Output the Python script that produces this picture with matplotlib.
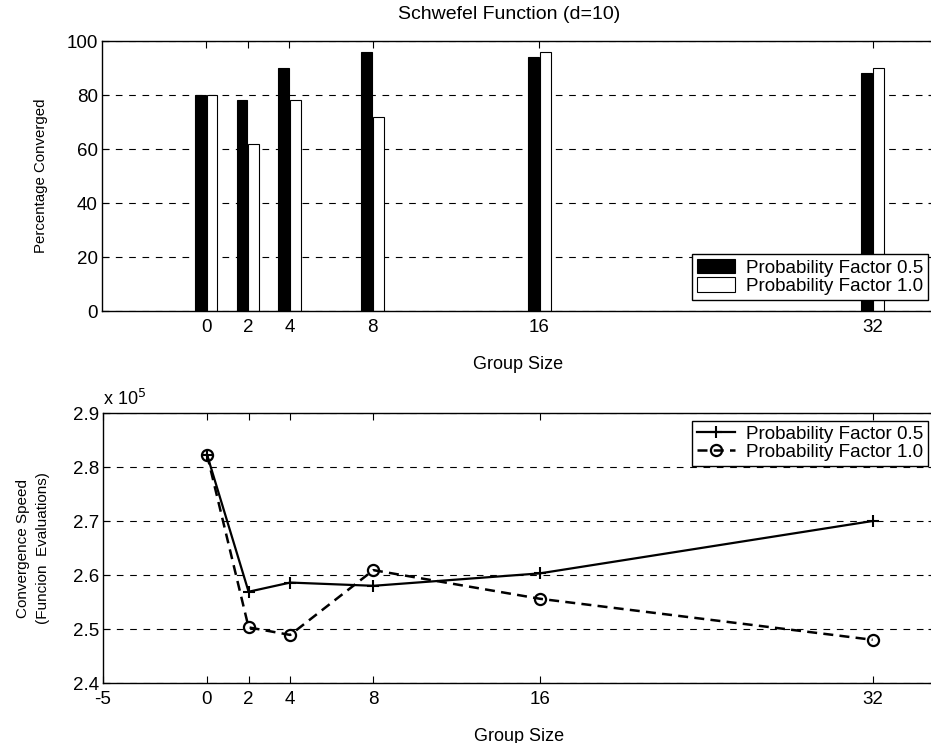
import numpy as np
import matplotlib
matplotlib.use('Agg')
import matplotlib.pyplot as plt

plt.rcParams['font.family'] = ['Liberation Sans', 'DejaVu Sans']
plt.rcParams['axes.unicode_minus'] = False

group_sizes = [0, 2, 4, 8, 16, 32]
labels = ['Probability Factor 0.5', 'Probability Factor 1.0']

# percentage converged (top)
pct_05 = [80, 78, 90, 96, 94, 88]
pct_10 = [80, 62, 78, 72, 96, 90]

# convergence speed, units of 1e5 function evaluations (bottom)
speed_05 = [2.823, 2.569, 2.586, 2.580, 2.603, 2.700]
speed_10 = [2.823, 2.503, 2.489, 2.609, 2.556, 2.480]

fig = plt.figure(figsize=(9.31, 7.43), dpi=100)
W, H = 931.0, 743.0

def style(ax):
    ax.tick_params(direction='in', top=True, right=True, length=5, labelsize=13.5, pad=3)
    for s in ax.spines.values():
        s.set_linewidth(1.0)
    ax.yaxis.grid(True, linestyle=(0, (6, 6)), color='black', linewidth=0.8)
    ax.set_axisbelow(True)

leg_kw = dict(fontsize=13.6, frameon=True, fancybox=False, edgecolor='black', framealpha=1,
              borderaxespad=0, labelspacing=0.05, borderpad=0.25, handletextpad=0.6)

# ---- top: bars ----
ax1 = fig.add_axes([102/W, 1-311/H, (935-102)/W, (311-41)/H])
x = np.array(group_sizes, dtype=float)
w = 0.52
ax1.bar(x - 0.28, pct_05, width=w, color='black', edgecolor='black', linewidth=0.8, label=labels[0])
ax1.bar(x + 0.28, pct_10, width=w, color='white', edgecolor='black', linewidth=0.8, label=labels[1])
ax1.set_xlim(-5, 35)
ax1.set_ylim(0, 100)
ax1.set_xticks(group_sizes)
ax1.set_yticks([0, 20, 40, 60, 80, 100])
style(ax1)
ax1.tick_params(axis='x', pad=6)
ax1.set_title('Schwefel Function (d=10)', fontsize=14, pad=16, x=0.489)
ax1.set_xlabel('Group Size', fontsize=13, labelpad=14)
ax1.set_ylabel('Percentage Converged', fontsize=10.8, labelpad=13)
ax1.legend(loc='lower right', bbox_to_anchor=(928/W, 1-300/H), bbox_transform=fig.transFigure,
           handlelength=2.0, handleheight=0.8, **leg_kw)

# ---- bottom: lines ----
ax2 = fig.add_axes([103/W, 1-683/H, (935-103)/W, (683-413)/H])
ax2.plot(group_sizes, speed_05, color='black', linestyle='-', linewidth=1.6,
         marker='+', markersize=9, markeredgewidth=1.5, label=labels[0])
ax2.plot(group_sizes, speed_10, color='black', linestyle=(0, (4, 2.5)), linewidth=1.8,
         marker='o', markersize=8, markerfacecolor='none', markeredgewidth=1.6, label=labels[1])
ax2.set_xlim(-5, 35)
ax2.set_ylim(2.4, 2.9)
ax2.set_xticks([-5] + group_sizes)
ax2.set_yticks([2.4, 2.5, 2.6, 2.7, 2.8, 2.9])
ax2.set_yticklabels(['2.4', '2.5', '2.6', '2.7', '2.8', '2.9'])
style(ax2)
ax2.tick_params(axis='x', pad=6)
ax2.text(0.0, 1.015, r'x 10$^{5}$', transform=ax2.transAxes, fontsize=13, ha='left', va='bottom')
ax2.set_xlabel('Group Size', fontsize=13, labelpad=14)
ax2.set_ylabel('Convergence Speed\n(Funcion  Evaluations)', fontsize=11, labelpad=16,
               linespacing=1.6)
ax2.legend(loc='upper right', bbox_to_anchor=(928/W, 1-421/H), bbox_transform=fig.transFigure,
           handlelength=2.0, **leg_kw)

fig.savefig('out.png', dpi=100)
